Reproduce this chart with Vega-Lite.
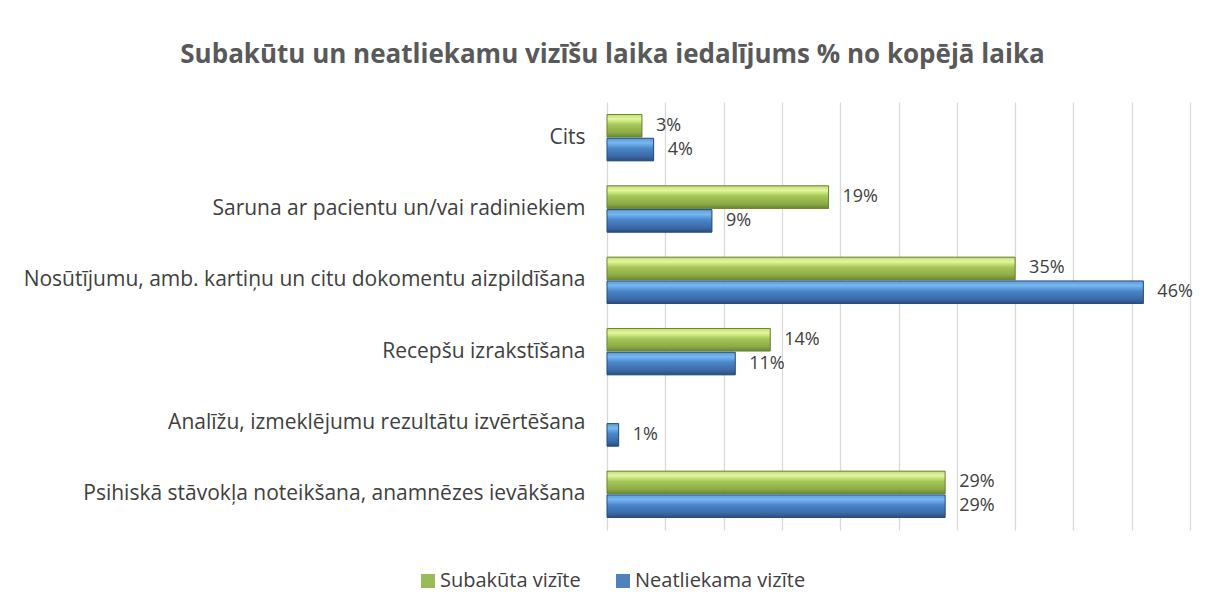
{
  "$schema": "https://vega.github.io/schema/vega-lite/v6.json",
  "autosize": "none",
  "width": 583,
  "height": 428,
  "padding": {"left": 607, "top": 102, "right": 17, "bottom": 84},
  "background": "white",
  "title": {
    "text": "Subakūtu un neatliekamu vizīšu laika iedalījums % no kopējā laika",
    "anchor": "middle",
    "dx": -286,
    "offset": 34,
    "font": "Open Sans",
    "fontSize": 26,
    "fontWeight": "bold",
    "color": "#595959"
  },
  "data": {
    "values": [
      {"kategorija": "Cits", "serija": "Subakūta vizīte", "v": 0.03},
      {"kategorija": "Cits", "serija": "Neatliekama vizīte", "v": 0.04},
      {"kategorija": "Saruna ar pacientu un/vai radiniekiem", "serija": "Subakūta vizīte", "v": 0.19},
      {"kategorija": "Saruna ar pacientu un/vai radiniekiem", "serija": "Neatliekama vizīte", "v": 0.09},
      {"kategorija": "Nosūtījumu, amb. kartiņu un citu dokomentu aizpildīšana", "serija": "Subakūta vizīte", "v": 0.35},
      {"kategorija": "Nosūtījumu, amb. kartiņu un citu dokomentu aizpildīšana", "serija": "Neatliekama vizīte", "v": 0.46},
      {"kategorija": "Recepšu izrakstīšana", "serija": "Subakūta vizīte", "v": 0.14},
      {"kategorija": "Recepšu izrakstīšana", "serija": "Neatliekama vizīte", "v": 0.11},
      {"kategorija": "Analīžu, izmeklējumu rezultātu izvērtēšana", "serija": "Neatliekama vizīte", "v": 0.01},
      {"kategorija": "Psihiskā stāvokļa noteikšana, anamnēzes ievākšana", "serija": "Subakūta vizīte", "v": 0.29},
      {"kategorija": "Psihiskā stāvokļa noteikšana, anamnēzes ievākšana", "serija": "Neatliekama vizīte", "v": 0.29}
    ]
  },
  "encoding": {
    "y": {
      "field": "kategorija",
      "type": "nominal",
      "sort": null,
      "scale": {"paddingInner": 0.35, "paddingOuter": 0.175},
      "axis": {
        "title": null,
        "domain": false,
        "ticks": false,
        "labelPadding": 22,
        "labelFont": "Open Sans",
        "labelFontSize": 21,
        "labelColor": "#404040",
        "labelLimit": 700
      }
    },
    "yOffset": {
      "field": "serija",
      "type": "nominal",
      "sort": ["Subakūta vizīte", "Neatliekama vizīte"],
      "scale": {"paddingInner": 0.05}
    },
    "x": {
      "field": "v",
      "type": "quantitative",
      "scale": {"domain": [0, 0.5], "nice": false},
      "axis": {
        "title": null,
        "labels": false,
        "ticks": false,
        "domain": false,
        "values": [0, 0.05, 0.1, 0.15, 0.2, 0.25, 0.3, 0.35, 0.4, 0.45, 0.5],
        "grid": true,
        "gridColor": "#d9d9d9",
        "gridWidth": 1.3
      }
    }
  },
  "layer": [
    {
      "mark": {"type": "bar"},
      "encoding": {
        "color": {
          "field": "serija",
          "type": "nominal",
          "sort": ["Subakūta vizīte", "Neatliekama vizīte"],
          "scale": {"domain": ["Subakūta vizīte", "Neatliekama vizīte"], "range": ["#9bbb59", "#4f81bd"]},
          "legend": {
            "title": null,
            "orient": "none",
            "direction": "horizontal",
            "legendX": -189,
            "legendY": 469,
            "symbolType": "square",
            "symbolSize": 196,
            "symbolStrokeWidth": 0,
            "symbolOpacity": 1,
            "labelFont": "Open Sans",
            "labelFontSize": 20,
            "labelColor": "#404040",
            "labelOffset": 2,
            "labelLimit": 400,
            "columnPadding": 32
          }
        }
      }
    },
    {
      "transform": [{"filter": "datum.serija === 'Subakūta vizīte'"}],
      "mark": {
        "type": "bar",
        "stroke": "#6b8535",
        "strokeWidth": 1,
        "color": {
          "gradient": "linear",
          "x1": 0, "y1": 0, "x2": 0, "y2": 1,
          "stops": [
            {"offset": 0, "color": "#c5dc78"},
            {"offset": 0.2, "color": "#e3f79c"},
            {"offset": 0.45, "color": "#a6c658"},
            {"offset": 0.8, "color": "#8cab46"},
            {"offset": 1, "color": "#6b8535"}
          ]
        }
      }
    },
    {
      "transform": [{"filter": "datum.serija === 'Neatliekama vizīte'"}],
      "mark": {
        "type": "bar",
        "stroke": "#2a4c7c",
        "strokeWidth": 1,
        "color": {
          "gradient": "linear",
          "x1": 0, "y1": 0, "x2": 0, "y2": 1,
          "stops": [
            {"offset": 0, "color": "#5b9bd5"},
            {"offset": 0.2, "color": "#78b8f2"},
            {"offset": 0.45, "color": "#4a86c9"},
            {"offset": 0.8, "color": "#3b6aa7"},
            {"offset": 1, "color": "#2a4c7c"}
          ]
        }
      }
    },
    {
      "mark": {
        "type": "text",
        "align": "left",
        "baseline": "middle",
        "dx": 14,
        "font": "Open Sans",
        "fontSize": 18,
        "color": "#404040"
      },
      "encoding": {
        "text": {"field": "v", "type": "quantitative", "format": ".0%"}
      }
    }
  ],
  "config": {"view": {"stroke": null}}
}
